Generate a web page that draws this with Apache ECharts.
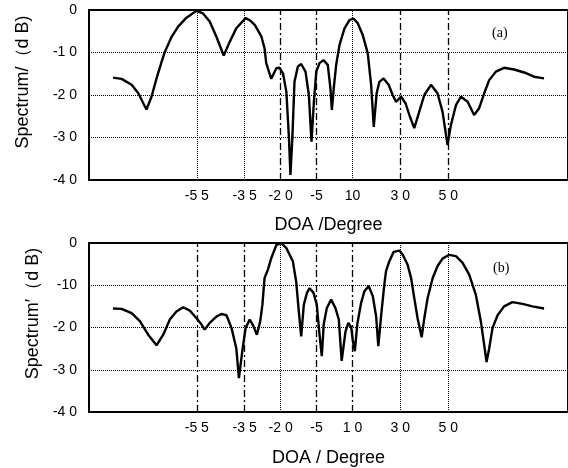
<!DOCTYPE html>
<html>
<head>
<meta charset="utf-8">
<script src="https://cdn.jsdelivr.net/npm/echarts@6/dist/echarts.min.js"></script>
<style>
html,body{margin:0;padding:0;background:#fff;}
#chart{width:568px;height:468px;}
</style>
</head>
<body>
<div id="chart"></div>
<script>
// ---- Data: panel (a) ----
const degA = [-90,-86.4,-82.2,-79.4,-77.3,-76,-73.9,-71.8,-69.7,-68.3,-65.5,-62.8,-59.3,-55.1,-52.4,-49.6,-46.8,-43.75,-41.25,-38.5,-34.6,-32.9,-30.8,-28.75,-28.0,-26.7,-26.0,-23.9,-21.8,-20.4,-19.0,-17.6,-16.5,-15.9,-15.1,-14.2,-12.8,-11.4,-9.6,-8.2,-7.1,-6.1,-5.1,-3.75,-2.1,-0.3,0.8,1.4,2.2,3.2,4.6,6.7,8.75,10.4,12.2,14.3,16.4,17.8,18.9,20.1,21.25,23.0,25.1,26.8,28.2,30.3,32.2,33.75,35.8,37.9,40,42.8,45.5,47.6,49.3,49.7,51.1,53.2,55.3,58.1,60.8,62.9,65,67.1,69.9,73.3,77.5,81.7,85.8,90];
const dbA = [-15.9,-16.2,-17.6,-19.6,-22,-23.4,-20.4,-16.1,-12.2,-9.8,-6.3,-3.9,-1.8,-0.2,-0.8,-2.7,-6.3,-10.7,-7.5,-4.3,-1.9,-2.4,-3.5,-5.5,-6.3,-9.0,-12.5,-16.2,-13.7,-13.6,-14.9,-19.2,-30.2,-38.8,-30.2,-16.9,-13.3,-12.7,-14.5,-20,-31,-21.6,-14.5,-12.5,-11.8,-12.9,-18.4,-23.5,-18.4,-12.9,-8.2,-4.3,-2.4,-2.0,-3.1,-5.9,-10.2,-17.6,-27.5,-19.6,-16.9,-16.1,-17.6,-20,-21.6,-20.4,-22,-24.7,-27.8,-23.9,-20,-17.6,-19.6,-23.9,-30.2,-31.8,-27.1,-22.4,-20.4,-21.6,-24.7,-23.1,-19.6,-16.5,-14.5,-13.6,-14,-14.7,-15.7,-16.1];

// ---- Data: panel (b) ----
const degB = [-90,-86.4,-82.2,-78.75,-75.3,-71.8,-69,-66.25,-63.5,-60.7,-57.9,-55.1,-53,-51.7,-49.6,-46.8,-44.7,-42.6,-40.5,-38.5,-37.4,-36,-34.6,-32.9,-31.5,-29.9,-28.5,-27.6,-26.7,-25.3,-23.9,-21.8,-19.7,-17.6,-14.9,-13.5,-12.4,-11.4,-10.3,-9.0,-7.9,-6.25,-4.9,-3.75,-2.8,-2.0,-0.7,1.1,2.9,4.3,5.5,7.1,8.3,9.5,10.1,11.0,12,13.6,15,16.8,18.5,19.9,20.8,22,23.3,24,25.4,27.2,29.6,31,33,34.5,35.8,37.2,38.9,40,41.4,43.5,45.5,47.6,50.4,53.2,56,58.75,61.5,63.6,65,66,67.1,68.5,70.6,73.3,76.8,81,85.1,90];
const dbB = [-15.5,-15.6,-16.6,-18.5,-21.7,-24.2,-21.7,-18.1,-16.2,-15.2,-16,-17.8,-19.3,-20.5,-18.9,-17.4,-16.8,-17.1,-20.1,-24.9,-32,-25.6,-20.1,-18.1,-19.5,-21.7,-18.5,-14.6,-8.3,-6.3,-3.6,-0.5,0,-1.2,-4.3,-9.1,-16.2,-22.1,-14.6,-11.8,-10.7,-11.8,-14.6,-21.7,-26.8,-19.3,-15.4,-13.4,-15.4,-18.1,-27.9,-20.9,-18.9,-20,-22.9,-25.6,-19.3,-14.2,-11.4,-10.2,-12.6,-17.4,-24.4,-17,-9.9,-6.7,-4.3,-2.1,-1.8,-2.8,-5.1,-8.3,-13,-17.8,-22.3,-17.8,-13,-8.3,-5.5,-3.7,-2.8,-3.1,-4.7,-7.5,-12.2,-18.5,-24.1,-28.2,-24.9,-20.1,-17.1,-15,-14,-14.4,-15,-15.5];

// ---- Tick labels ----
const xTickValues = [-55,-35,-20,-5,10,30,50];
const xTickLabelsA = ['-5 5','-3 5','-2 0','-5','10','3 0','5 0'];
const xTickLabelsB = ['-5 5','-3 5','-2 0','-5','1 0','3 0','5 0'];
const yTickValues = [0,-10,-20,-30,-40];
const yTickLabelsA = ['0','-1 0','-2 0','-3 0','-4 0'];
const yTickLabelsB = ['0','-10','-2 0','-3 0','-4 0'];

// reference direction lines: dotted vs dash-dot
const dottedA = [-55,-35,10];
const dashDotA = [-20,-5,30,50];
const dottedB = [-20,30,50];
const dashDotB = [-55,-35,-5,10];

const FONT = 'Liberation Sans, Arial, Helvetica, sans-serif';
const dotStyle = {color:'#000', width:1, type:[1,1]};
const dashDotStyle = {color:'#000', width:1.3, type:[7,3,2,3]};

function zip(a,b){ return a.map((v,i)=>[v,b[i]]); }
function marks(dotted, dashdot){
  return dotted.map(v=>({xAxis:v, lineStyle:dotStyle}))
    .concat(dashdot.map(v=>({xAxis:v, lineStyle:dashDotStyle})));
}
function xAxisFor(idx, labels, name, gap){
  return {
    type:'value', gridIndex:idx, min:-100, max:100,
    axisLine:{show:false}, axisTick:{show:false}, splitLine:{show:false},
    axisLabel:{
      customValues: xTickValues,
      formatter: v => { const i = xTickValues.indexOf(Math.round(v)); return i>=0 ? labels[i] : ''; },
      color:'#000', fontFamily:FONT, fontSize:14, margin:9
    },
    name:name, nameLocation:'middle', nameGap:gap,
    nameTextStyle:{color:'#000', fontFamily:FONT, fontSize:18}
  };
}
function yAxisFor(idx, labels, name, gap, pad){
  return {
    type:'value', gridIndex:idx, min:-40, max:0, interval:10,
    axisLine:{show:false}, axisTick:{show:false},
    splitLine:{show:true, lineStyle:{color:'#000', width:1, type:[1,1]}},
    axisLabel:{
      formatter: v => { const i = yTickValues.indexOf(Math.round(v)); return i>=0 ? labels[i] : ''; },
      color:'#000', fontFamily:FONT, fontSize:14, margin:12
    },
    name:name, nameLocation:'middle', nameGap:gap,
    nameTextStyle:{color:'#000', fontFamily:FONT, fontSize:18, padding:pad}
  };
}

const chart = echarts.init(document.getElementById('chart'), null, {renderer:'canvas'});
chart.setOption({
  animation:false,
  backgroundColor:'#fff',
  grid:[
    {left:89, top:10, width:480, height:170, show:true, borderColor:'#000', borderWidth:2},
    {left:89, top:243, width:480, height:169, show:true, borderColor:'#000', borderWidth:2}
  ],
  xAxis:[
    xAxisFor(0, xTickLabelsA, 'DOA /Degree', 36),
    xAxisFor(1, xTickLabelsB, 'DOA / Degree', 37)
  ],
  yAxis:[
    yAxisFor(0, yTickLabelsA, 'Spectrum/（d B)', 57, [0,0,0,26]),
    yAxisFor(1, yTickLabelsB, 'Spectrum′（d B)', 46, [0,0,0,28])
  ],
  graphic:[
    {type:'text', left:492, top:26, style:{text:'(a)', font:'14px "Liberation Serif", "Times New Roman", serif', fill:'#000'}},
    {type:'text', left:493, top:261, style:{text:'(b)', font:'14px "Liberation Serif", "Times New Roman", serif', fill:'#000'}}
  ],
  series:[
    {type:'line', xAxisIndex:0, yAxisIndex:0, data:zip(degA,dbA), showSymbol:false, smooth:false,
      lineStyle:{color:'#000', width:2.4},
      markLine:{silent:true, symbol:['none','none'], label:{show:false}, data:marks(dottedA,dashDotA)}},
    {type:'line', xAxisIndex:1, yAxisIndex:1, data:zip(degB,dbB), showSymbol:false, smooth:false,
      lineStyle:{color:'#000', width:2.4},
      markLine:{silent:true, symbol:['none','none'], label:{show:false}, data:marks(dottedB,dashDotB)}}
  ]
});
</script>
</body>
</html>
